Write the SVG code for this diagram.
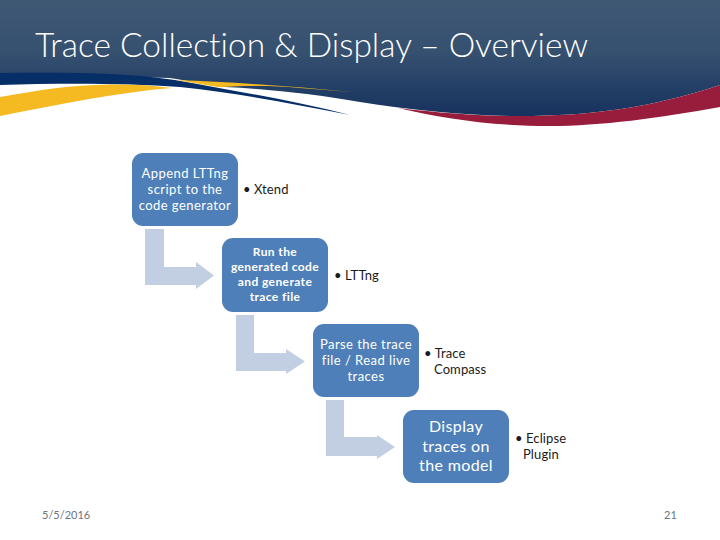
<svg xmlns="http://www.w3.org/2000/svg" width="720" height="540" viewBox="0 0 720 540">
<style>
text{font-family:"Lato","Open Sans","Liberation Sans",sans-serif;font-variant-ligatures:none}
.box{fill:#4f7fb8}
.arrow{fill:#c2cfe2}
.bt{fill:#fff;text-anchor:middle;font-size:13px;letter-spacing:.45px}
.b2{font-size:12px;font-weight:700;letter-spacing:.4px}
.b4{font-size:16px;letter-spacing:.35px}
.lt{fill:#1a1a1a;font-size:13px;letter-spacing:.1px}
.ft{fill:#6b7480;font-size:11px}
</style>
<defs>
<linearGradient id="hdr" x1="0" y1="0" x2="0" y2="1">
<stop offset="0" stop-color="#3e5874"/><stop offset="0.45" stop-color="#365070"/><stop offset="1" stop-color="#16325e"/>
</linearGradient>
</defs>
<rect width="720" height="540" fill="#fff"/>
<g id="banner">
<path d="M0 0H720V85C650 108 590 116 520 116C470 116 410 110 360 102C320 95 270 89 225 87L170 78L0 74Z" fill="url(#hdr)"/>
<path d="M398 108C440 113 480 116 520 116C590 116 650 108 720 85V107C660 118 600 126 550 126C490 126 440 118 398 108Z" fill="#981d3c"/>
<path d="M0 73C70 72 130 73 175 80C230 90 290 100 350 115C290 103 230 92 180 87C125 83 60 83 0 85Z" fill="#062f67"/>
<path d="M176 80C230 82 290 86 352 92L300 88C270 85 245 86 218 87Z" fill="#f5b922"/>
<path d="M0 97C40 90 70 85 110 84.500C130 84 150 85 172 88C120 92 60 104 0 116Z" fill="#f5b922"/>
</g>
<text id="title" x="35" y="57" font-size="33" font-weight="300" fill="#fff" textLength="553" lengthAdjust="spacingAndGlyphs">Trace Collection &amp; Display – Overview</text>
<g id="connectors">
<path class="arrow" d="M145 229H164V267H196V262L214 275.500L196 289V285H145Z"/>
<path class="arrow" d="M236 315H254V353H286V349L305 361.500L286 374V371H236Z"/>
<path class="arrow" d="M326 400H344V437H377V435L395 447L377 459V456H326Z"/>
</g>
<g id="node1">
<rect class="box" x="132" y="153" width="106" height="73" rx="11"/>
<text class="bt" x="185" y="178">Append LTTng</text>
<text class="bt" x="185" y="194">script to the</text>
<text class="bt" x="185" y="210">code generator</text>
<text class="lt" x="243" y="194">• Xtend</text>
</g>
<g id="node2">
<rect class="box" x="222" y="238" width="106" height="74" rx="11"/>
<text class="bt b2" x="275" y="256">Run the</text>
<text class="bt b2" x="275" y="271">generated code</text>
<text class="bt b2" x="275" y="286">and generate</text>
<text class="bt b2" x="275" y="301">trace file</text>
<text class="lt" x="334" y="280">• LTTng</text>
</g>
<g id="node3">
<rect class="box" x="313" y="324" width="106" height="73" rx="11"/>
<text class="bt" x="366" y="349">Parse the trace</text>
<text class="bt" x="366" y="365">file / Read live</text>
<text class="bt" x="366" y="381">traces</text>
<text class="lt" x="424" y="358">• Trace</text>
<text class="lt" x="434" y="374">Compass</text>
</g>
<g id="node4">
<rect class="box" x="403" y="410" width="106" height="73" rx="11"/>
<text class="bt b4" x="456" y="432">Display</text>
<text class="bt b4" x="456" y="452">traces on</text>
<text class="bt b4" x="456" y="471">the model</text>
<text class="lt" x="515" y="443">• Eclipse</text>
<text class="lt" x="523" y="459">Plugin</text>
</g>
<text class="ft" x="42" y="519">5/5/2016</text>
<text class="ft" x="664" y="519">21</text>
</svg>
